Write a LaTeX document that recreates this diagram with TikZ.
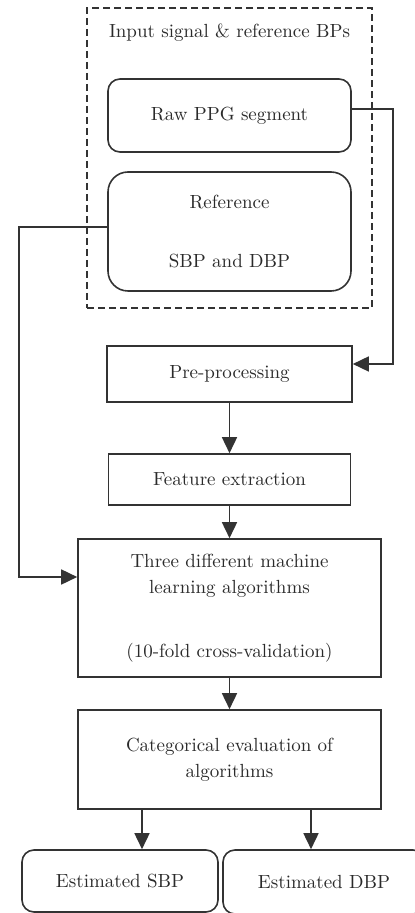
\documentclass[tikz,border=0pt]{standalone}
\usepackage{tikz}
\usetikzlibrary{positioning,arrows.meta}
\definecolor{lnclr}{HTML}{333333}
\definecolor{txclr}{HTML}{2A2A2A}

\begin{document}
\begin{tikzpicture}[x=0.5pt,y=-0.5pt,font=\fontsize{9.5}{13}\selectfont,text=txclr,
  box/.style={rectangle,draw=lnclr,line width=0.8pt,align=center,inner sep=0pt},
  rbox/.style={box,rounded corners=6pt},
  frm/.style={rectangle,draw=lnclr,line width=0.6pt,dash pattern=on 3.5pt off 2pt},
  ar/.style={-{Triangle[length=8pt,width=7.5pt]},line width=0.8pt,draw=lnclr}]
  \useasboundingbox (0,0) rectangle (415,913);
  \clip (0,0) rectangle (415,913);
  % input group
  \node[frm,minimum width=142.5pt,minimum height=150pt] (inp) at (229.5,158) {};
  \node (ttl) at (229.5,33) {Input signal \& reference BPs};
  \node[rbox,minimum width=121.5pt,minimum height=36.5pt] (raw) at (229.5,115.5) {Raw PPG segment};
  \node[rbox,rounded corners=10pt,minimum width=121.5pt,minimum height=59.5pt] (ref) at (229.5,231.5) {Reference\\[16.5pt]SBP and DBP};
  % processing chain
  \node[box,minimum width=122.5pt,minimum height=28pt] (pre) at (229.5,374) {Pre-processing};
  \node[box,minimum width=121pt,minimum height=25.5pt] (feat) at (229.5,479.5) {Feature extraction};
  \node[box,minimum width=151.5pt,minimum height=69pt] (ml) at (229.5,608) {Three different machine\\learning algorithms\\[19pt](10-fold cross-validation)};
  \node[box,minimum width=151.5pt,minimum height=49.5pt] (cat) at (229.5,759.5) {Categorical evaluation of\\algorithms};
  \node[rbox,minimum width=98pt,minimum height=31pt] (sbp) at (120,881) {Estimated SBP};
  \node[rbox,minimum width=101pt,minimum height=32pt] (dbp) at (324,882) {Estimated DBP};
  % connectors
  \draw[ar] ([yshift=3.25pt]raw.east) -- ++(41,0) |- ([yshift=5pt]pre.east);
  \draw[ar] ([yshift=2.25pt]ref.west) -- ++(-88,0) |- ([yshift=15.5pt]ml.west);
  \draw[ar] (pre) -- (feat);
  \draw[ar] (feat) -- (ml);
  \draw[ar] (ml) -- (cat);
  \draw[ar] ([xshift=-43.75pt]cat.south) -- ([xshift=-43.75pt]cat.south |- sbp.north);
  \draw[ar] ([xshift=40.75pt]cat.south) -- ([xshift=40.75pt]cat.south |- dbp.north);
\end{tikzpicture}
\end{document}
